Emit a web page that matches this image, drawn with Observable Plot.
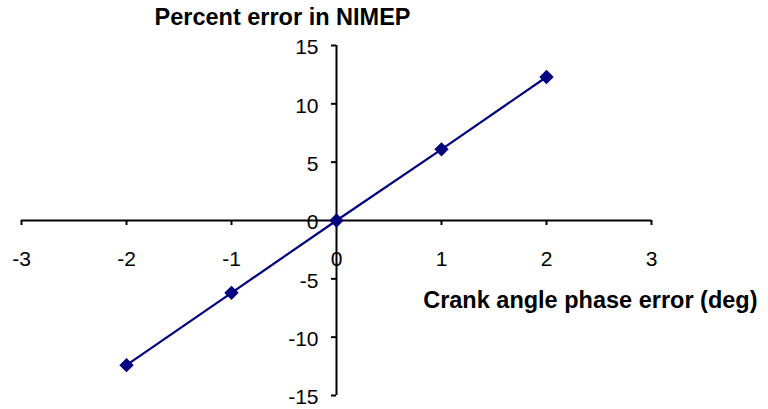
<!DOCTYPE html>
<html>
<head>
<meta charset="utf-8">
<script src="https://cdn.jsdelivr.net/npm/d3@7"></script>
<script src="https://cdn.jsdelivr.net/npm/@observablehq/plot@0.6"></script>
<style>
  html, body { margin: 0; padding: 0; background: #fff; }
  svg { display: block; }
</style>
</head>
<body>
<div id="chart"></div>
<script>
const phaseError = [-2, -1, 0, 1, 2];
const nimepError = [-12.4, -6.2, 0, 6.1, 12.3];
const xTicks = [-3, -2, -1, 0, 1, 2, 3];
const yTicks = [-15, -10, -5, 0, 5, 10, 15];
const xTitle = "Crank angle phase error (deg)";
const yTitle = "Percent error in NIMEP";

const data = phaseError.map((x, i) => ({x, y: nimepError[i]}));
const font = "Liberation Sans, Arial, sans-serif";

const chart = Plot.plot({
  width: 768,
  height: 409,
  marginLeft: 21,
  marginRight: 117,
  marginTop: 45,
  marginBottom: 14,
  x: {domain: [-3, 3], axis: null},
  y: {domain: [-15, 15], axis: null},
  style: {fontFamily: font, background: "#fff"},
  marks: [
    Plot.ruleY([0], {stroke: "#000", strokeWidth: 2}),
    Plot.ruleX([0], {stroke: "#000", strokeWidth: 2}),
    Plot.ruleX(xTicks, {x: d => d, y1: 0, y2: 0, insetBottom: -5, stroke: "#000", strokeWidth: 2}),
    Plot.ruleY(yTicks, {y: d => d, x1: 0, x2: 0, insetLeft: -5, stroke: "#000", strokeWidth: 2}),
    Plot.text(xTicks, {x: d => d, y: 0, text: d => String(d), dy: 39, fontSize: 21, fill: "#000"}),
    Plot.text(yTicks, {x: 0, y: d => d, text: d => String(d), dx: -18, dy: 2, textAnchor: "end", fontSize: 21, fill: "#000"}),
    Plot.line(data, {x: "x", y: "y", stroke: "#000080", strokeWidth: 2.2}),
    Plot.dot(data, {x: "x", y: "y", symbol: "diamond2", r: 5.5, fill: "#000080", stroke: "#000080"}),
    Plot.text([xTitle], {frameAnchor: "right", text: d => d, textAnchor: "end", dx: 106, dy: 80, fontSize: 23.5, fontWeight: "bold", fill: "#000"}),
    Plot.text([yTitle], {frameAnchor: "top", text: d => d, dx: -54, dy: -37, fontSize: 23.5, fontWeight: "bold", fill: "#000"})
  ]
});
document.getElementById("chart").appendChild(chart);
</script>
</body>
</html>
